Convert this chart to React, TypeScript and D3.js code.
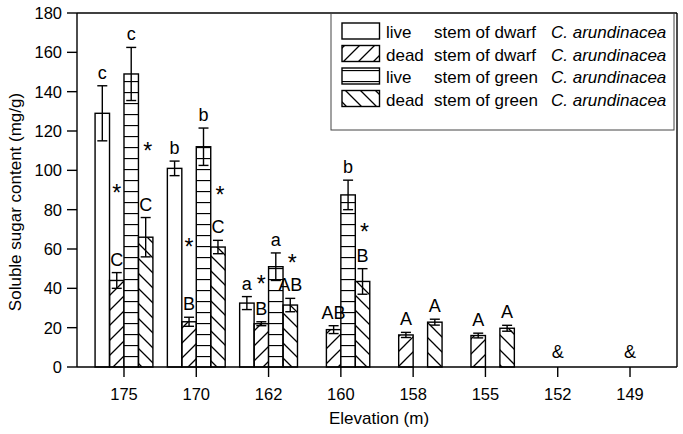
import React from 'react';
import * as d3 from 'd3';

const categories = ["175", "170", "162", "160", "158", "155", "152", "149"];

const liveDwarf = [129, 101, 32.5, null, null, null, null, null];
const liveDwarfErr = [14, 3.7, 3.3, null, null, null, null, null];
const liveDwarfSig = ["c", "b", "a", "", "", "", "", ""];

const deadDwarf = [44, 23, 22, 19, 16.3, 16, null, null];
const deadDwarfErr = [4, 2.3, 1, 2, 1.3, 1.2, null, null];
const deadDwarfSig = ["C", "B", "B", "AB", "A", "A", "", ""];

const liveGreen = [149, 112, 51, 87.5, null, null, null, null];
const liveGreenErr = [13.5, 9.5, 7, 7.5, null, null, null, null];
const liveGreenSig = ["c", "b", "a", "b", "", "", "", ""];

const deadGreen = [66, 61, 31.5, 43.5, 22.8, 19.7, null, null];
const deadGreenErr = [10, 3.4, 3.4, 6.5, 1.5, 1.5, null, null];
const deadGreenSig = ["C", "C", "AB", "B", "A", "A", "", ""];

// height (in mg/g) at which the "*" marks sit
const starDwarf = [91, 63.5, 44.5, null, null, null, null, null];
const starGreen = [112.4, 90, 55.4, 71.2, null, null, null, null];

const noData = ["", "", "", "", "", "", "&", "&"];

const yTicks = [0, 20, 40, 60, 80, 100, 120, 140, 160, 180];

const legendLabels = [
  ["live", "stem of dwarf", "C. arundinacea"],
  ["dead", "stem of dwarf", "C. arundinacea"],
  ["live", "stem of green", "C. arundinacea"],
  ["dead", "stem of green", "C. arundinacea"],
];

const FONT = "'Liberation Sans', Arial, Helvetica, sans-serif";

export default function App() {
  const W = 683, H = 434;
  const left = 77, right = 677, top = 13, bottom = 367;

  const x = d3.scalePoint<string>().domain(categories).range([left, right]).padding(0.65);
  const step = x.step();
  const bw = step * 0.2;
  const y = d3.scaleLinear().domain([0, 180]).range([bottom, top]);

  const series = [
    { vals: liveDwarf, errs: liveDwarfErr, sig: liveDwarfSig, fill: "#fff", k: 0 },
    { vals: deadDwarf, errs: deadDwarfErr, sig: deadDwarfSig, fill: "url(#hatchF)", k: 1 },
    { vals: liveGreen, errs: liveGreenErr, sig: liveGreenSig, fill: "url(#hatchH)", k: 2 },
    { vals: deadGreen, errs: deadGreenErr, sig: deadGreenSig, fill: "url(#hatchB)", k: 3 },
  ];
  const legendFills = series.map((s) => s.fill);

  const barX = (cat: string, k: number) => (x(cat) as number) + (k - 2) * bw;
  const sw = 1.4;

  return (
    <svg width={W} height={H} style={{ position: "absolute", left: 0, top: 0, background: "#fff" }}
      fontFamily={FONT}>
      <defs>
        <pattern id="hatchF" patternUnits="userSpaceOnUse" width={15} height={15}>
          <path d="M-2,2 L2,-2 M0,15 L15,0 M13,17 L17,13" stroke="#000" strokeWidth={1.3} />
        </pattern>
        <pattern id="hatchB" patternUnits="userSpaceOnUse" width={15} height={15}>
          <path d="M-2,13 L2,17 M0,0 L15,15 M13,-2 L17,2" stroke="#000" strokeWidth={1.3} />
        </pattern>
        <pattern id="hatchH" patternUnits="userSpaceOnUse" width={11} height={11}
          patternTransform={`translate(0,${bottom % 11})`}>
          <rect width={11} height={11} fill="#fff" />
          <path d="M0,0.5 L11,0.5" stroke="#000" strokeWidth={1.3} />
        </pattern>
      </defs>

      {/* bars */}
      {series.map((s) =>
        categories.map((c, i) => {
          const v = s.vals[i];
          if (v == null) return null;
          const bx = barX(c, s.k);
          return (
            <rect key={`b${s.k}-${i}`} x={bx} y={y(v)} width={bw} height={y(0) - y(v)}
              fill={s.fill} stroke="#000" strokeWidth={sw} />
          );
        })
      )}

      {/* error bars */}
      {series.map((s) =>
        categories.map((c, i) => {
          const v = s.vals[i];
          const e = s.errs[i];
          if (v == null || e == null) return null;
          const cx = barX(c, s.k) + bw / 2;
          const cap = 5;
          return (
            <g key={`e${s.k}-${i}`} stroke="#000" strokeWidth={sw}>
              <line x1={cx} x2={cx} y1={y(v + e)} y2={y(v - e)} />
              <line x1={cx - cap} x2={cx + cap} y1={y(v + e)} y2={y(v + e)} />
              <line x1={cx - cap} x2={cx + cap} y1={y(v - e)} y2={y(v - e)} />
            </g>
          );
        })
      )}

      {/* significance letters */}
      {series.map((s) =>
        categories.map((c, i) => {
          const v = s.vals[i];
          const e = s.errs[i] ?? 0;
          if (v == null || !s.sig[i]) return null;
          const cx = barX(c, s.k) + bw / 2;
          return (
            <text key={`l${s.k}-${i}`} x={cx} y={y(v + e) - 7} textAnchor="middle" fontSize={18}>
              {s.sig[i]}
            </text>
          );
        })
      )}

      {/* asterisks */}
      {categories.map((c, i) => {
        const out = [];
        if (starDwarf[i] != null)
          out.push(
            <text key={`sd${i}`} x={barX(c, 1) + bw / 2} y={y(starDwarf[i] as number) + 13}
              textAnchor="middle" fontSize={23}>*</text>
          );
        if (starGreen[i] != null)
          out.push(
            <text key={`sg${i}`} x={barX(c, 3) + bw / 2 + 2} y={y(starGreen[i] as number) + 13}
              textAnchor="middle" fontSize={23}>*</text>
          );
        return out;
      })}

      {/* no-data marks */}
      {categories.map((c, i) =>
        noData[i] ? (
          <text key={`nd${i}`} x={x(c) as number} y={y(0) - 9} textAnchor="middle" fontSize={18}>
            {noData[i]}
          </text>
        ) : null
      )}

      {/* frame and axes */}
      <g stroke="#000" strokeWidth={1.4} fill="none">
        <line x1={left} x2={right} y1={top} y2={top} />
        <line x1={right} x2={right} y1={top} y2={bottom} />
        <line x1={left} x2={left} y1={top} y2={bottom} />
        <line x1={left} x2={right} y1={bottom} y2={bottom} />
      </g>
      {yTicks.map((t) => (
        <g key={`yt${t}`}>
          <line x1={left - 10} x2={left} y1={y(t)} y2={y(t)} stroke="#000" strokeWidth={1.4} />
          <text x={62} y={y(t)} dy="0.36em" textAnchor="end" fontSize={16.5}>{t}</text>
        </g>
      ))}
      {categories.map((c) => (
        <g key={`xt${c}`}>
          <line x1={x(c) as number} x2={x(c) as number} y1={bottom} y2={bottom + 10} stroke="#000" strokeWidth={1.4} />
          <text x={x(c) as number} y={400} textAnchor="middle" fontSize={16.5}>{c}</text>
        </g>
      ))}
      <text x={(left + right) / 2 + 2} y={424} textAnchor="middle" fontSize={17}>Elevation (m)</text>
      <text transform={`translate(21,${(top + bottom) / 2 + 12}) rotate(-90)`} textAnchor="middle" fontSize={17}>
        Soluble sugar content (mg/g)
      </text>

      {/* legend */}
      <rect x={331} y={top} width={right - 331 - 3} height={117} fill="none" stroke="#444" strokeWidth={1} />
      {legendLabels.map((lab, i) => {
        const ry = 23 + i * 22.5;
        return (
          <g key={`lg${i}`}>
            <rect x={342} y={ry} width={37.5} height={16} fill={legendFills[i]} stroke="#000" strokeWidth={sw} />
            <text x={386} y={ry + 15} fontSize={17}>{lab[0]}</text>
            <text x={434} y={ry + 15} fontSize={17}>{lab[1]}</text>
            <text x={551} y={ry + 15} fontSize={17} fontStyle="italic">{lab[2]}</text>
          </g>
        );
      })}
    </svg>
  );
}
